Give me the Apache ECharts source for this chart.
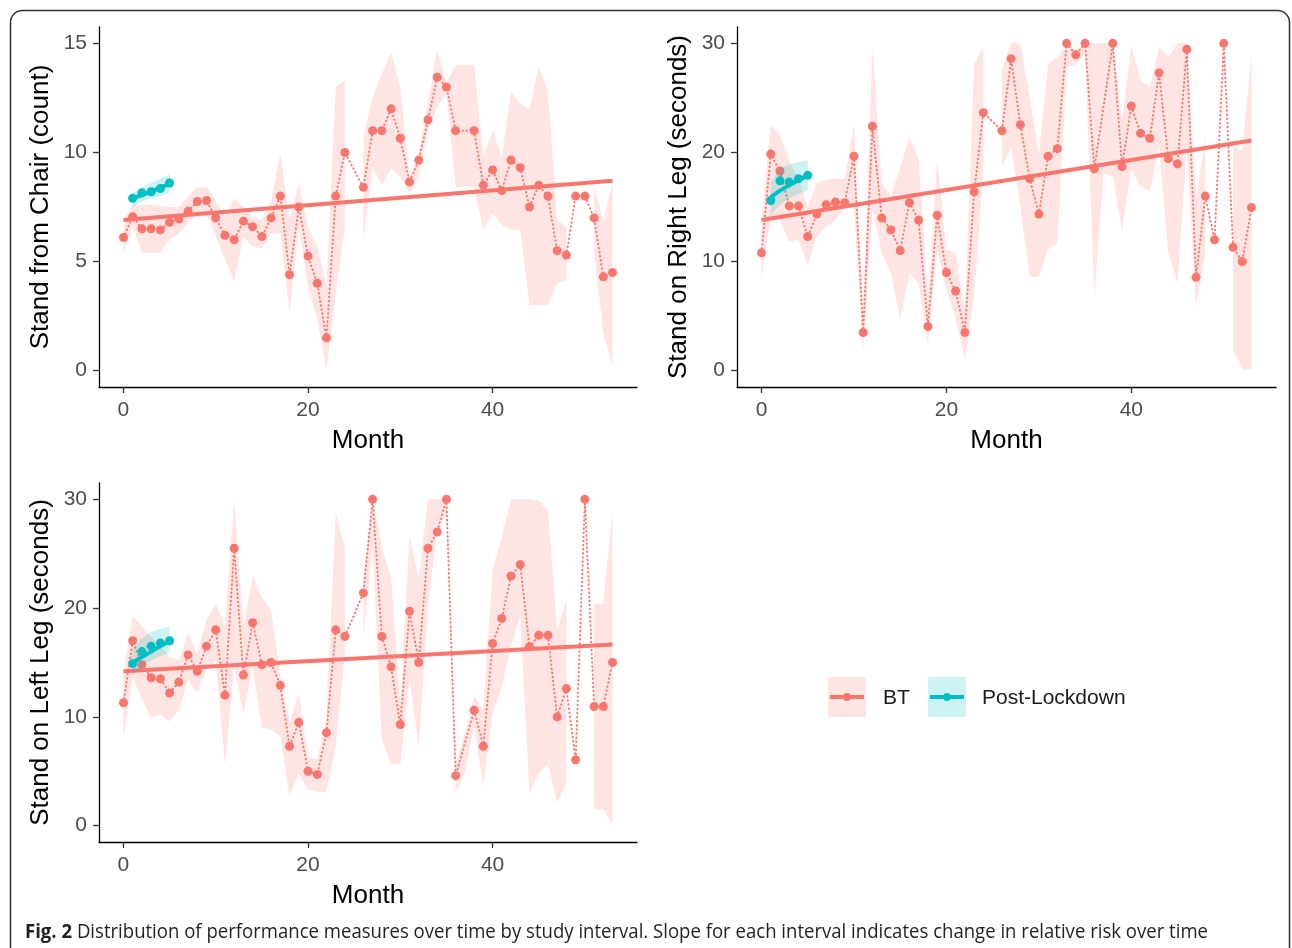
<!DOCTYPE html>
<html><head><meta charset="utf-8">
<script src="https://cdn.jsdelivr.net/npm/echarts@6/dist/echarts.min.js"></script>
<style>html,body{margin:0;padding:0;background:#fff}#c{width:1292px;height:948px}</style>
</head><body><div id="c"></div>
<script>
// ---------------- DATA ----------------
const months = [0,1,2,3,4,5,6,7,8,9,10,11,12,13,14,15,16,17,18,19,20,21,22,23,24,25,26,27,28,29,30,31,32,33,34,35,36,37,38,39,40,41,42,43,44,45,46,47,48,49,50,51,52,53];
const postMonths = [1,2,3,4,5];
const xTicks = [0,20,40];

// Stand from Chair (count)
const chairBT = [6.1,7.05,6.5,6.5,6.45,6.8,6.95,7.3,7.75,7.8,7.0,6.2,6.0,6.85,6.6,6.15,7.0,8.0,4.4,7.5,5.25,4.0,1.5,8.0,10.0,null,8.4,11.0,11.0,12.0,10.65,8.65,9.65,11.5,13.45,13.0,11.0,null,11.0,8.5,9.2,8.25,9.65,9.3,7.5,8.5,8.0,5.5,5.3,8.0,8.0,7.0,4.3,4.5];
const chairLow = [5.4,6.6,5.4,5.4,5.4,6.0,6.3,6.75,7.2,7.2,6.15,5.1,4.1,6.15,5.7,5.6,6.3,6.3,2.65,6.6,3.85,2.35,0.05,3.5,6.6,null,6.0,9.35,8.5,9.27,8.9,8.1,8.9,11.0,12.1,12.7,8.43,8.43,8.43,6.45,7.2,6.68,6.45,6.45,3.0,3.0,3.0,4.0,4.16,null,null,5.4,1.72,0.2];
const chairHigh = [6.9,7.6,7.6,7.6,7.55,7.5,7.5,8.0,8.4,8.4,7.8,7.05,7.9,7.5,7.05,6.9,7.8,9.95,6.9,8.6,6.6,5.7,3.85,13.0,13.3,null,10.7,12.55,13.6,14.6,13.0,8.73,9.95,12.24,14.7,13.2,14.0,14.0,14.0,9.8,11.0,9.8,12.77,12.24,12.0,13.9,12.85,6.9,6.6,null,null,8.43,6.9,8.58];
const chairTrend = [6.9, 8.7];
const chairPost = [7.9,8.15,8.2,8.35,8.6];
const chairPostFit = [7.9,8.05,8.2,8.4,8.55];
const chairPostLow = [7.5,7.75,7.9,8.0,8.15];
const chairPostHigh = [8.15,8.4,8.6,8.8,9.0];
const chairTicks = [0,5,10,15];

// Stand on Right Leg (seconds)
const rightBT = [10.8,19.85,18.3,15.1,15.1,12.3,14.35,15.2,15.45,15.4,19.65,3.5,22.4,14.0,12.9,11.0,15.4,13.8,4.05,14.25,9.0,7.3,3.5,16.4,23.65,null,22.0,28.6,22.55,17.6,14.35,19.65,20.35,30,28.95,30,18.5,null,30,18.7,24.25,21.75,21.3,27.3,19.45,18.95,29.45,8.55,16.0,12.0,30,11.3,10.0,14.95];
const rightLow = [8.5,14.1,13.8,11.8,12.0,9.7,12.3,13.2,13.8,15.0,15.2,1.8,15.0,10.8,8.9,4.7,8.9,8.0,2.4,11.1,7.4,4.7,1.0,6.8,18.4,null,18.7,20.5,15.0,8.6,8.6,11.1,11.7,27.8,28.1,29.1,6.8,18.1,17.8,12.9,18.4,16.9,16.4,20.5,10.8,8.0,20.8,5.9,10.8,null,null,1.9,0.1,0.1];
const rightHigh = [13.8,22.5,21.6,19.3,17.5,15.0,17.2,17.5,17.6,17.6,22.5,5.3,29.8,17.2,16.0,18.7,21.4,19.45,6.2,19.3,11.1,10.8,5.3,28.1,29.7,null,27.7,30,30,25.1,19.9,28.1,28.75,30,29.4,30,30,30,30,22.95,29.8,26.6,26.0,29.7,28.75,30,30,15.6,21.4,null,null,20.5,20.2,29.05];
const rightTrend = [13.8, 21.1];
const rightPost = [15.6,17.4,17.3,17.6,17.9];
const rightPostFit = [15.9,16.5,17.0,17.45,17.9];
const rightPostLow = [14.3,15.2,15.8,16.2,16.5];
const rightPostHigh = [17.2,18.6,18.9,19.1,19.3];
const legTicks = [0,10,20,30];

// Stand on Left Leg (seconds)
const leftBT = [11.3,17.0,14.8,13.6,13.5,12.2,13.2,15.7,14.2,16.5,18.0,12.0,25.5,13.85,18.65,14.8,15.0,12.9,7.3,9.5,5.0,4.7,8.55,18.0,17.4,null,21.4,30,17.4,14.6,9.3,19.7,15.0,25.5,27.0,30,4.6,null,10.6,7.3,16.75,19.05,22.95,24.0,16.45,17.5,17.5,10.0,12.6,6.05,30,10.95,10.95,15.0];
const leftLow = [8.2,13.7,11.6,9.9,10.2,9.6,10.6,13.4,12.2,14.3,15.2,5.6,14.6,10.3,14.6,9.0,8.8,8.2,2.7,4.8,3.3,3.1,3.1,7.3,15.8,null,17.4,25.6,7.9,5.7,5.6,13.4,7.3,20.1,27.2,28.7,3.1,4.8,9.1,3.6,10.3,12.8,16.5,19.2,3.0,4.8,5.7,2.1,3.9,null,null,1.5,1.5,0.1];
const leftHigh = [14.0,19.3,18.3,17.4,16.5,15.5,15.2,17.7,15.8,18.9,20.4,18.3,29.9,18.3,22.9,21.0,19.8,13.7,9.4,12.2,6.3,6.1,9.7,28.7,25.6,null,22.9,30,25.6,22.9,10.9,26.7,22.6,30,30,30,5.7,8.5,11.9,10.6,23.5,26.5,30,30,30,29.9,29.0,18.0,20.7,null,null,20.4,20.4,29.0];
const leftTrend = [14.2, 16.65];
const leftPost = [14.9,16.0,16.5,16.8,17.0];
const leftPostFit = [15.0,15.5,16.0,16.5,17.0];
const leftPostLow = [13.8,14.6,15.2,15.6,15.9];
const leftPostHigh = [16.2,17.2,17.8,18.1,18.3];

const seriesNames = ['BT', 'Post-Lockdown'];
const yTitles = ['Stand from Chair (count)', 'Stand on Right Leg (seconds)', 'Stand on Left Leg (seconds)'];
const caption = 'Distribution of performance measures over time by study interval. Slope for each interval indicates change in relative risk over time';

// ---------------- STYLE ----------------
const F = '"Liberation Sans", Arial, sans-serif';
const RED = '#F8766D', TEAL = '#00BFC4';
const RED_BAND = 'rgba(248,118,109,0.2)', TEAL_BAND = 'rgba(0,191,196,0.2)';

const grids = [
  {left: 99, top: 27, width: 538, height: 360},
  {left: 737, top: 27, width: 539, height: 360},
  {left: 99, top: 483, width: 538, height: 359}
];

function xAxisCfg(gi) {
  return {
    type: 'value', gridIndex: gi, min: -2.65, max: 55.65,
    name: 'Month', nameLocation: 'middle', nameGap: 41,
    nameTextStyle: {fontFamily: F, fontSize: 26, color: '#000'},
    axisLine: {show: true, onZero: false, lineStyle: {color: '#000', width: 1.3}},
    axisTick: {show: true, length: 6, customValues: xTicks, lineStyle: {color: '#333', width: 1.3}},
    axisLabel: {customValues: xTicks, margin: 13, fontFamily: F, fontSize: 21, color: '#4D4D4D'},
    splitLine: {show: false}
  };
}
function yAxisCfg(gi, ticks, max, title) {
  const pad = max * 0.05;
  return {
    type: 'value', gridIndex: gi, min: -pad, max: max + pad,
    name: title, nameLocation: 'middle', nameGap: 45, nameRotate: 90,
    nameTextStyle: {fontFamily: F, fontSize: 26, color: '#000'},
    axisLine: {show: true, onZero: false, lineStyle: {color: '#000', width: 1.3}},
    axisTick: {show: true, length: 6, customValues: ticks, lineStyle: {color: '#333', width: 1.3}},
    axisLabel: {customValues: ticks, margin: 12, fontFamily: F, fontSize: 21, color: '#4D4D4D'},
    splitLine: {show: false}
  };
}

// ribbon: one polygon per contiguous run of non-null months, drawn through the axis scales
function band(gi, xs, lo, hi, color, z) {
  const runs = [];
  let start = null;
  for (let i = 0; i <= xs.length; i++) {
    const ok = i < xs.length && lo[i] != null && hi[i] != null;
    if (ok && start === null) start = i;
    if (!ok && start !== null) { runs.push([xs[start], lo[start], start, i - 1]); start = null; }
  }
  return {
    type: 'custom', xAxisIndex: gi, yAxisIndex: gi, z, silent: true, clip: true,
    data: runs,
    encode: {x: 0, y: 1},
    renderItem: function (params, api) {
      const s = api.value(2), e = api.value(3);
      const pts = [];
      for (let i = s; i <= e; i++) pts.push(api.coord([xs[i], hi[i]]));
      for (let i = e; i >= s; i--) pts.push(api.coord([xs[i], lo[i]]));
      return {type: 'polygon', shape: {points: pts}, style: {fill: color, stroke: 'none'}};
    }
  };
}

function panel(gi, bt, lo, hi, trend, post, postFit, postLo, postHi) {
  const s = [];
  s.push(band(gi, months, lo, hi, RED_BAND, 1));
  s.push({type: 'line', name: seriesNames[0], xAxisIndex: gi, yAxisIndex: gi, z: 3, connectNulls: true,
    data: months.map((m, i) => [m, bt[i]]), symbol: 'circle', symbolSize: 9, showSymbol: true,
    itemStyle: {color: RED}, lineStyle: {color: RED, width: 2, type: [0.5, 3.6], cap: 'round'}});
  s.push({type: 'line', xAxisIndex: gi, yAxisIndex: gi, z: 4, symbol: 'none',
    data: [[months[0], trend[0]], [months[months.length - 1], trend[1]]],
    lineStyle: {color: RED, width: 4}});
  s.push(band(gi, postMonths, postLo, postHi, TEAL_BAND, 5));
  s.push({type: 'line', xAxisIndex: gi, yAxisIndex: gi, z: 6, symbol: 'none',
    data: postMonths.map((m, i) => [m, postFit[i]]), lineStyle: {color: TEAL, width: 4}});
  s.push({type: 'scatter', name: seriesNames[1], xAxisIndex: gi, yAxisIndex: gi, z: 7,
    data: postMonths.map((m, i) => [m, post[i]]), symbol: 'circle', symbolSize: 9, itemStyle: {color: TEAL, opacity: 1}});
  return s;
}

// caption scaling (condensed look)
const capFont = '"Open Sans", "Noto Sans", sans-serif';
const capSize = 20;
const ctx = document.createElement('canvas').getContext('2d');
ctx.font = 'bold ' + capSize + 'px ' + capFont;
const w1 = ctx.measureText('Fig. 2 ').width;
ctx.font = capSize + 'px ' + capFont;
const w2 = ctx.measureText(caption).width;
const capScale = 1183 / (w1 + w2);

const legendGraphics = [];
const legendItems = [
  {x: 828, color: RED, bg: RED_BAND, label: seriesNames[0], tx: 883},
  {x: 928, color: TEAL, bg: TEAL_BAND, label: seriesNames[1], tx: 982}
];
legendItems.forEach(it => {
  legendGraphics.push({type: 'rect', shape: {x: it.x, y: 677, width: 38, height: 40}, style: {fill: it.bg}});
  legendGraphics.push({type: 'line', shape: {x1: it.x + 2, y1: 697, x2: it.x + 36, y2: 697}, style: {stroke: it.color, lineWidth: 4}});
  legendGraphics.push({type: 'circle', shape: {cx: it.x + 19, cy: 697, r: 4}, style: {fill: it.color}});
  legendGraphics.push({type: 'text', x: it.tx, y: 698, style: {text: it.label, font: '21px ' + F, fill: '#1A1A1A', verticalAlign: 'middle'}});
});

const option = {
  animation: false,
  backgroundColor: '#fff',
  grid: grids,
  xAxis: [xAxisCfg(0), xAxisCfg(1), xAxisCfg(2)],
  yAxis: [yAxisCfg(0, chairTicks, 15, yTitles[0]), yAxisCfg(1, legTicks, 30, yTitles[1]), yAxisCfg(2, legTicks, 30, yTitles[2])],
  series: [
    ...panel(0, chairBT, chairLow, chairHigh, chairTrend, chairPost, chairPostFit, chairPostLow, chairPostHigh),
    ...panel(1, rightBT, rightLow, rightHigh, rightTrend, rightPost, rightPostFit, rightPostLow, rightPostHigh),
    ...panel(2, leftBT, leftLow, leftHigh, leftTrend, leftPost, leftPostFit, leftPostLow, leftPostHigh)
  ],
  graphic: [
    {type: 'rect', shape: {x: 10.5, y: 10.5, width: 1279, height: 980, r: 12}, style: {fill: 'none', stroke: '#333', lineWidth: 1.5}, z: 100},
    ...legendGraphics,
    {type: 'text', x: 25, y: 932, scaleX: capScale, style: {
      text: '{b|Fig. 2} ' + caption, font: capSize + 'px ' + capFont, fill: '#231F20', verticalAlign: 'middle',
      rich: {b: {fontWeight: 'bold', fontFamily: capFont, fontSize: capSize, fill: '#231F20'}}
    }}
  ]
};

const chart = echarts.init(document.getElementById('c'), null, {renderer: 'canvas'});
chart.setOption(option);
</script>
</body></html>
